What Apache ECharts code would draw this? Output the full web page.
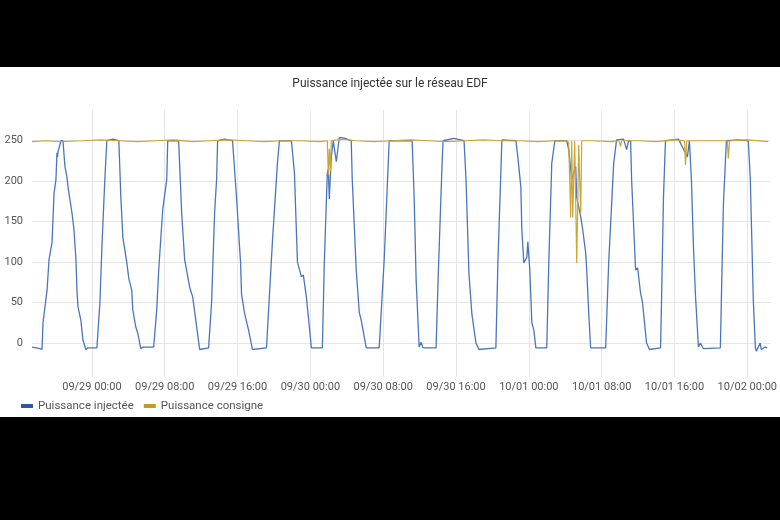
<!DOCTYPE html>
<html>
<head>
<meta charset="utf-8">
<script src="https://cdn.jsdelivr.net/npm/echarts@6/dist/echarts.min.js"></script>
<style>
html,body{margin:0;padding:0;background:#000;}
#chart{width:780px;height:520px;}
</style>
</head>
<body>
<div id="chart"></div>
<script>
// Hours relative to 09/29 00:00
const injHours = [-6.58,-5.70,-5.48,-5.37,-4.93,-4.71,-4.38,-4.16,-3.95,-3.84,-3.78,-3.73,-3.40,-3.18,-2.96,-2.74,-2.63,-2.19,-1.97,-1.75,-1.64,-1.53,-1.21,-0.99,-0.66,-0.44,
  0.55,0.88,1.10,1.42,1.64,2.30,2.96,3.18,3.40,3.84,4.05,4.38,4.49,4.82,5.04,5.37,5.59,
  6.79,7.12,7.34,7.78,8.22,8.33,9.53,9.86,10.19,10.74,11.07,11.51,11.84,
  12.82,13.15,13.48,13.70,13.81,14.58,15.45,15.89,16.22,16.33,16.44,16.77,17.21,17.64,
  19.18,19.29,19.84,20.38,20.60,21.92,22.25,22.58,23.01,23.23,23.56,23.89,24.11,
  25.32,25.53,25.86,25.97,26.08,26.30,26.52,26.85,27.18,27.84,28.49,28.60,29.04,29.37,29.59,30.14,
  31.56,32.11,32.66,35.18,35.40,35.62,35.95,36.16,36.38,
  37.81,38.03,38.47,38.58,39.78,40.88,41.10,41.42,41.75,42.19,42.52,
  44.38,44.60,45.04,46.58,46.79,47.12,47.23,47.45,47.78,47.89,48.11,48.33,48.55,48.77,
  49.97,50.19,50.52,50.85,52.16,52.38,52.71,53.15,53.26,53.70,53.92,54.25,54.36,54.58,54.79,
  56.44,56.77,57.32,57.64,58.41,58.74,58.96,59.18,59.29,59.73,59.95,60.27,60.49,60.93,61.26,
  62.47,62.58,62.79,63.01,64.44,65.42,65.64,65.86,66.08,66.30,66.63,66.85,67.18,
  69.04,69.15,69.37,69.70,71.01,72.11,72.33,72.66,72.88,72.99,73.42,73.53,73.97,74.19];
const injValues = [-5,-7,-8,25,65,103,124,185,202,235,230,236,250,250,218,205,193,161,140,103,65,45,28,4,-8,-6,
  -6,50,119,202,250,252,250,180,131,99,80,65,41,20,12,-7,-5,
  -5,41,90,165,202,250,250,161,103,69,57,20,-8,
  -6,50,161,202,250,252,250,180,119,100,60,37,16,-8,
  -6,16,127,222,250,250,210,100,82,84,57,20,-6,
  -6,99,210,215,178,230,250,224,254,253,250,202,90,38,28,-6,
  -6,103,250,250,180,78,-5,1,-6,
  -6,78,222,250,253,250,202,86,35,0,-8,
  -6,99,251,250,230,193,140,99,106,125,90,25,16,-6,
  -6,99,222,250,250,239,202,218,180,156,140,111,90,37,-6,
  -6,99,222,251,252,239,250,250,202,90,93,62,50,0,-8,
  -6,53,180,250,252,230,250,202,120,60,-5,0,-7,
  -6,53,170,250,251,250,202,53,-5,-10,0,-8,-5,-6];

const consHours = [-6.58,-5,-3.5,-1,1,3,5,7,9,11,13,15,17,19,21,23,25,25.86,25.97,26.08,26.19,26.30,27.5,29,31,33,35,37,39,41,43,45,47,49,51,
  52.16,52.38,52.60,52.71,52.82,53.04,53.26,53.48,53.70,53.81,55,57,57.9,58.08,58.2,60,62,64,65.1,65.21,65.35,67,69.8,69.92,70.05,72,74.3];
const consValues = [249,250,249,250,251,250,249,250,251,249,250,251,250,249,250,250,249,250,208,240,212,250,252,250,249,250,251,250,249,250,251,250,250,249,250,
  250,248,155,250,155,250,99,245,160,250,250,249,250,243,250,250,249,251,250,220,250,250,250,228,250,251,249];

const tickHours = [0,8,16,24,32,40,48,56,64,72];
const tickLabels = ['09/29 00:00','09/29 08:00','09/29 16:00','09/30 00:00','09/30 08:00','09/30 16:00','10/01 00:00','10/01 08:00','10/01 16:00','10/02 00:00'];

const zip = (a,b) => a.map((x,i)=>[x,b[i]]);

const chart = echarts.init(document.getElementById('chart'));
chart.setOption({
  backgroundColor: '#ffffff',
  animation: false,
  textStyle: {fontFamily: 'Roboto'},
  graphic: [
    {type:'rect', shape:{x:0,y:0,width:780,height:67}, style:{fill:'#000'}},
    {type:'rect', shape:{x:0,y:417,width:780,height:103}, style:{fill:'#000'}}
  ],
  title: {
    text: 'Puissance injectée sur le réseau EDF',
    left: 'center', top: 73,
    textStyle: {fontSize: 12, fontWeight: 'normal', color: '#333', fontFamily: 'Roboto'}
  },
  legend: {
    left: 16, top: 395,
    itemWidth: 12, itemHeight: 4, itemGap: 10,
    icon: 'rect',
    textStyle: {fontSize: 11.5, color: '#555', fontFamily: 'Roboto'},
    data: ['Puissance injectée','Puissance consigne']
  },
  grid: {left: 32, right: 8, top: 110, bottom: 143},
  xAxis: {
    type: 'value', min: -6.58, max: 74.52,
    axisLine: {show: false},
    axisTick: {show: false, customValues: tickHours},
    axisLabel: {customValues: tickHours, margin: 5, fontSize: 11, color: '#555',
      formatter: v => { const i = tickHours.indexOf(Math.round(v)); return i >= 0 ? tickLabels[i] : ''; }},
    splitLine: {show: true, lineStyle: {color: '#e6e6e6', width: 1}}
  },
  yAxis: {
    type: 'value', min: -42, max: 288, minInterval: 50, maxInterval: 50,
    axisLine: {show: false}, axisTick: {show: false},
    axisLabel: {showMinLabel: false, showMaxLabel: false, margin: 9, fontSize: 11, color: '#555'},
    splitLine: {lineStyle: {color: ['rgba(0,0,0,0)','#e6e6e6','#e6e6e6','#e6e6e6','#e6e6e6','#e6e6e6','#e6e6e6','rgba(0,0,0,0)']}}
  },
  series: [
    {name:'Puissance injectée', type:'line', data: zip(injHours, injValues), showSymbol:false, symbol:'none',
      lineStyle:{color:'#4a76bd', width:1.3}, itemStyle:{color:'#2e58a6'}},
    {name:'Puissance consigne', type:'line', data: zip(consHours, consValues), showSymbol:false, symbol:'none',
      lineStyle:{color:'#cda533', width:1.2}, itemStyle:{color:'#c49a22'}}
  ]
});
</script>
</body>
</html>
